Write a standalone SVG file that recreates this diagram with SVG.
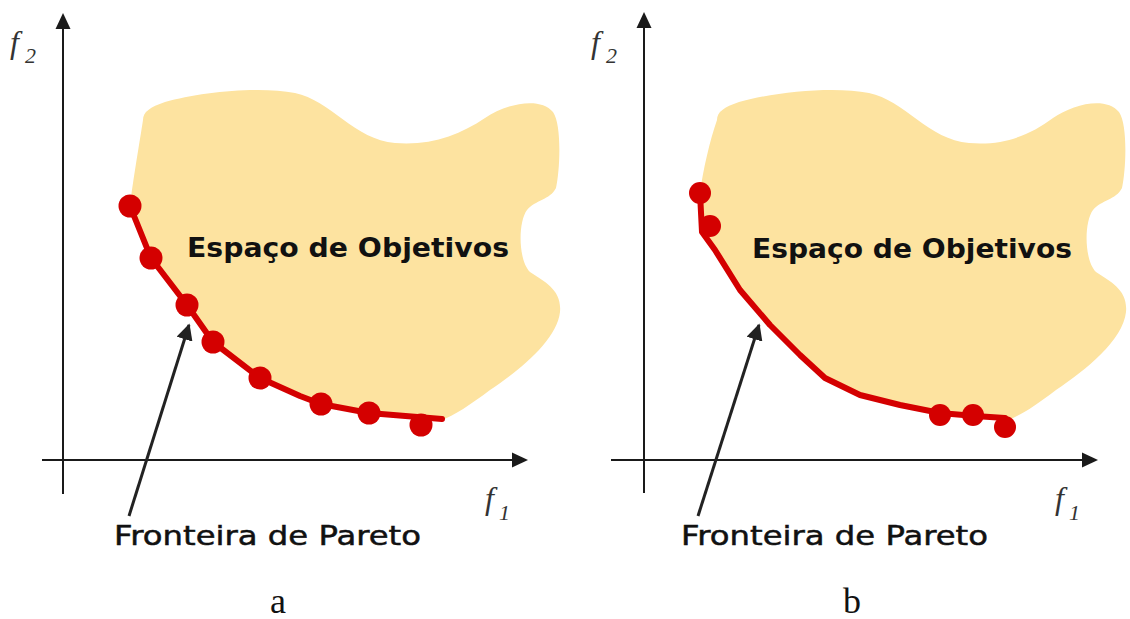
<svg xmlns="http://www.w3.org/2000/svg" width="1130" height="619" viewBox="0 0 1130 619">
<style>
.blob{fill:#fde3a0;stroke:none}
.axis{stroke:#1a1a1a;stroke-width:2;fill:none}
.ahead{fill:#1a1a1a}
.front{stroke:#d40000;stroke-width:6;fill:none;stroke-linejoin:round;stroke-linecap:round}
.dot{fill:#d40000}
.ann{stroke:#222;stroke-width:3;fill:none}
.region{font-family:"DejaVu Sans",sans-serif;font-weight:bold;font-size:26px;fill:#111}
.lbl{font-family:"DejaVu Sans",sans-serif;font-size:27px;fill:#111;stroke:#111;stroke-width:0.5}
.fn{font-family:"Liberation Serif",serif;font-style:italic;font-size:32px;fill:#333}
.sub{font-family:"Liberation Serif",serif;font-style:italic;font-size:22px;fill:#333}
.cap{font-family:"Liberation Serif",serif;font-size:36px;fill:#111}
</style>
<defs>
<marker id="arr" viewBox="0 0 10 10" refX="9" refY="5" markerWidth="5.5" markerHeight="5.5" orient="auto" markerUnits="strokeWidth">
<path d="M0,0 L10,5 L0,10 Z" fill="#222"/>
</marker>
</defs>

<g id="panel-a">
<g id="a-space">
<path class="blob" d="M143,120 C143,112 150,107 165,102 C200,92 260,86 295,93 C330,100 355,140 395,143 C430,146 460,135 485,118 C505,104 540,96 553,112 C562,125 560,170 556,188 C550,200 535,200 527,210 C518,222 518,260 530,272 C545,282 562,290 560,312 C557,340 520,370 490,390 C470,405 455,415 440,421 L369,413 L321,404 L260,378 L213,342 L187,305 L151,258 L130,206 C133,180 140,140 143,120 Z"/>
<text class="region" x="187" y="257" textLength="322" lengthAdjust="spacingAndGlyphs">Espaço de Objetivos</text>
</g>
<g id="a-axes">
<line class="axis" x1="63" y1="24" x2="63" y2="494"/>
<path class="ahead" d="M63,13 L55.5,29 L70.5,29 Z"/>
<line class="axis" x1="42" y1="460" x2="518" y2="460"/>
<path class="ahead" d="M528,460 L512,452.5 L512,467.5 Z"/>
<text class="fn" x="10" y="53">f</text><text class="sub" x="25" y="63">2</text>
<text class="fn" x="485" y="509">f</text><text class="sub" x="499" y="520">1</text>
</g>
<g id="a-front">
<polyline class="front" points="130,206 151,258 187,305 213,342 260,378 300,396 321,404 369,413 442,419"/>
<circle class="dot" cx="130" cy="206" r="11.5"/>
<circle class="dot" cx="151" cy="258" r="11.5"/>
<circle class="dot" cx="187" cy="305" r="11.5"/>
<circle class="dot" cx="213" cy="342" r="11.5"/>
<circle class="dot" cx="260" cy="378" r="11.5"/>
<circle class="dot" cx="321" cy="404" r="11.5"/>
<circle class="dot" cx="369" cy="413" r="11.5"/>
<circle class="dot" cx="421" cy="425" r="11.5"/>
</g>
<g id="a-label">
<text class="lbl" x="114" y="545" textLength="307" lengthAdjust="spacingAndGlyphs">Fronteira de Pareto</text>
</g>
<text class="cap" x="278" y="613" text-anchor="middle">a</text>
</g>

<g id="panel-b">
<g id="b-space">
<path class="blob" d="M717,120 C717,112 724,107 739,102 C774,92 834,86 869,93 C904,100 929,140 969,143 C1004,146 1030,135 1053,118 C1073,104 1106,96 1119,112 C1128,125 1126,170 1122,188 C1116,200 1101,200 1093,210 C1084,222 1084,260 1096,272 C1111,282 1128,290 1126,312 C1123,340 1086,370 1056,390 C1036,405 1022,415 1008,420 L975,416 L940,413 L900,405 L860,395 L825,378 L800,355 L770,325 L740,290 L715,250 L702,232 L700,193 C703,170 710,140 717,120 Z"/>
<text class="region" x="752" y="258" textLength="320" lengthAdjust="spacingAndGlyphs">Espaço de Objetivos</text>
</g>
<g id="b-axes">
<line class="axis" x1="644" y1="24" x2="644" y2="493"/>
<path class="ahead" d="M644,12 L636.5,28 L651.5,28 Z"/>
<line class="axis" x1="611" y1="460" x2="1088" y2="460"/>
<path class="ahead" d="M1098,460 L1082,452.5 L1082,467.5 Z"/>
<text class="fn" x="591" y="53">f</text><text class="sub" x="606" y="63">2</text>
<text class="fn" x="1055" y="509">f</text><text class="sub" x="1069" y="520">1</text>
</g>
<g id="b-front">
<polyline class="front" points="700,193 702,232 715,250 740,290 770,325 800,355 825,378 860,395 900,405 940,413 975,416 1005,418"/>
<circle class="dot" cx="700" cy="193" r="11"/>
<circle class="dot" cx="710" cy="226" r="11"/>
<circle class="dot" cx="940" cy="415" r="11"/>
<circle class="dot" cx="973" cy="415" r="11"/>
<circle class="dot" cx="1005" cy="427" r="11"/>
</g>
<g id="b-label">
<text class="lbl" x="681" y="545" textLength="307" lengthAdjust="spacingAndGlyphs">Fronteira de Pareto</text>
</g>
<text class="cap" x="852" y="613" text-anchor="middle">b</text>
</g>

<g id="connectors">
<line class="ann" x1="129" y1="516" x2="189" y2="325" marker-end="url(#arr)"/>
<line class="ann" x1="698" y1="516" x2="759" y2="325" marker-end="url(#arr)"/>
</g>
</svg>
